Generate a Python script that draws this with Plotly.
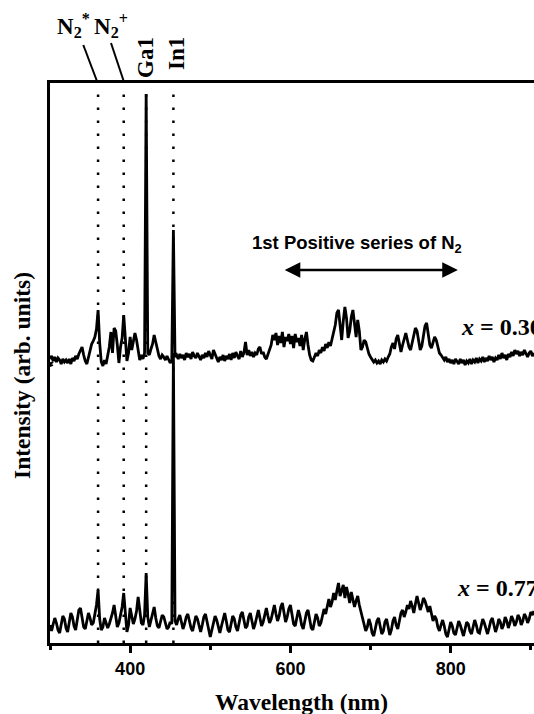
import numpy as np
import plotly.graph_objects as go

# Wavelength grid start / step (nm)
wl_start = 300
wl_step = 2

# Spectrum for x = 0.30 (arb. units, offset already included)
upper = [
    284, 287, 282, 286, 281, 285, 283, 279, 284, 281,   # 300-318
    283, 280, 284, 279, 285, 282, 287, 284, 289, 293,   # 320-338
    296, 288, 282, 279, 285, 292, 299, 302, 306, 314,   # 340-358
    333, 300, 281, 277, 283, 279, 286, 296, 311, 290,   # 360-378
    315, 312, 298, 280, 296, 305, 328, 306, 282, 290,   # 380-398
    306, 293, 300, 310, 303, 290, 283, 288, 284, 290,   # 400-418
    549, 290, 288, 294, 299, 308, 300, 292, 287, 284,   # 420-438
    288, 286, 283, 287, 284, 280, 283, 413, 286, 288,   # 440-458
    284, 289, 285, 288, 283, 290, 286, 289, 284, 291,   # 460-478
    287, 285, 290, 286, 283, 288, 285, 290, 286, 292,   # 480-498
    287, 284, 293, 288, 285, 281, 286, 283, 288, 282,   # 500-518
    287, 284, 289, 283, 290, 285, 291, 287, 284, 292,   # 520-538
    286, 290, 301, 288, 293, 287, 291, 286, 290, 288,   # 540-558
    294, 296, 289, 291, 286, 284, 289, 293, 298, 308,   # 560-578
    303, 310, 298, 307, 300, 311, 296, 306, 302, 309,   # 580-598
    299, 307, 295, 309, 301, 305, 297, 308, 293, 304,   # 600-618
    311, 298, 288, 283, 282, 286, 290, 287, 293, 290,   # 620-638
    296, 292, 299, 295, 301, 297, 305, 313, 318, 330,   # 640-658
    333, 318, 303, 322, 336, 325, 305, 312, 326, 333,   # 660-678
    318, 306, 323, 312, 293, 296, 303, 301, 295, 289,   # 680-698
    286, 284, 281, 283, 280, 282, 279, 283, 281, 284,   # 700-718
    282, 286, 289, 296, 300, 294, 304, 308, 300, 291,   # 720-738
    298, 305, 310, 303, 296, 293, 300, 309, 315, 312,   # 740-758
    300, 293, 297, 308, 317, 320, 311, 298, 295, 301,   # 760-778
    306, 303, 296, 290, 288, 285, 283, 286, 281, 284,   # 780-798
    280, 283, 279, 284, 281, 279, 284, 280, 283, 278,   # 800-818
    282, 280, 284, 279, 283, 281, 285, 280, 284, 282,   # 820-838
    286, 281, 285, 282, 287, 283, 286, 281, 285, 283,   # 840-858
    288, 284, 290, 285, 288, 283, 289, 286, 291, 287,   # 860-878
    293, 289, 292, 287, 291, 288, 293, 289, 286, 290,   # 880-898
    292, 287, 290,                                       # 900-904
]

# Spectrum for x = 0.77
lower = [
    18, 12, 19, 25, 20, 13, 10, 17, 27, 24,    # 300-318
    15, 11, 20, 30, 26, 17, 13, 22, 33, 35,    # 320-338
    24, 16, 14, 23, 30, 25, 18, 20, 28, 38,    # 340-358
    53, 24, 13, 16, 25, 21, 15, 19, 24, 30,    # 360-378
    38, 26, 16, 20, 28, 36, 50, 25, 11, 18,    # 380-398
    35, 27, 19, 24, 32, 46, 33, 20, 18, 28,    # 400-418
    70, 26, 16, 22, 30, 36, 25, 17, 15, 22,    # 420-438
    28, 26, 19, 14, 16, 21, 19, 290, 22, 18,   # 440-458
    24, 28, 21, 14, 19, 26, 29, 22, 15, 12,    # 460-478
    20, 27, 24, 16, 11, 18, 26, 29, 20, 12,    # 480-498
    6, 13, 22, 27, 23, 15, 10, 17, 25, 30,     # 500-518
    22, 13, 11, 19, 27, 24, 16, 12, 20, 28,    # 520-538
    31, 23, 15, 17, 26, 30, 22, 14, 19, 28,    # 540-558
    33, 25, 17, 21, 30, 35, 27, 20, 24, 33,    # 560-578
    38, 29, 22, 27, 36, 40, 31, 21, 26, 34,    # 580-598
    38, 28, 19, 17, 25, 33, 27, 18, 14, 22,    # 600-618
    30, 33, 24, 15, 13, 21, 29, 25, 17, 20,    # 620-638
    28, 34, 29, 37, 44, 36, 41, 50, 43, 52,    # 640-658
    60, 47, 53, 58, 45, 56, 49, 40, 51, 44,    # 660-678
    36, 42, 47, 38, 32, 26, 18, 12, 16, 24,    # 680-698
    19, 10, 7, 14, 22, 25, 16, 9, 12, 21,      # 700-718
    24, 15, 8, 13, 22, 26, 18, 14, 21, 30,     # 720-738
    33, 26, 31, 38, 34, 42, 37, 30, 39, 47,    # 740-758
    40, 33, 38, 45, 42, 35, 31, 37, 30, 22,    # 760-778
    27, 24, 16, 12, 18, 23, 17, 9, 6, 13,      # 780-798
    21, 17, 10, 8, 15, 22, 18, 11, 7, 14,      # 800-818
    21, 19, 12, 9, 16, 23, 18, 11, 10, 17,     # 820-838
    24, 20, 13, 9, 15, 22, 25, 17, 11, 16,     # 840-858
    24, 21, 14, 18, 26, 22, 15, 20, 27, 23,    # 860-878
    17, 21, 28, 25, 18, 22, 29, 26, 20, 24,    # 880-898
    31, 28, 32,                                 # 900-904
]

# Emission line markers (nm, as drawn)
line_positions = [360, 392, 420, 454]
line_labels = ["N<sub>2</sub><sup>*</sup>", "N<sub>2</sub><sup>+</sup>", "Ga1", "In1"]

# Sample labels
sample_labels = ["<i>x</i> = 0.30", "<i>x</i> = 0.77"]

# Band span of the 1st positive series (nm)
band_span = [591, 809]

x_range = [300, 904]
y_range = [0, 560]
major_ticks = [400, 600, 800]
minor_ticks = [300, 500, 700, 900]

wl_upper = wl_start + wl_step * np.arange(len(upper))
wl_lower = wl_start + wl_step * np.arange(len(lower))

W, H = 534, 714
ML, MR, MT, MB = 50, 0, 83, 71
PW = W - ML - MR
PH = H - MT - MB


def px_to_paper_x(px):
    return (px - ML) / PW


def px_to_paper_y(py):
    return (H - MB - py) / PH


def px_to_y(py):
    return y_range[0] + (H - MB - py) / PH * (y_range[1] - y_range[0])


fig = go.Figure()
fig.add_trace(go.Scatter(x=wl_upper, y=upper, mode="lines",
                         line=dict(color="black", width=2.8), hoverinfo="skip",
                         showlegend=False))
fig.add_trace(go.Scatter(x=wl_lower, y=lower, mode="lines",
                         line=dict(color="black", width=2.8), hoverinfo="skip",
                         showlegend=False))

serif = "Liberation Serif"
sans = "Liberation Sans"

shapes = []
for p in line_positions:
    shapes.append(dict(type="line", xref="x", yref="paper", x0=p, x1=p,
                       y0=0.0, y1=0.99,
                       line=dict(color="black", width=2.5, dash="2.5px,10.5px"),
                       layer="below"))

# leader lines from the N2 labels to the dotted lines
shapes.append(dict(type="line", xref="paper", yref="paper",
                   x0=px_to_paper_x(83.3), y0=px_to_paper_y(45),
                   x1=px_to_paper_x(97.3), y1=px_to_paper_y(82),
                   line=dict(color="black", width=2)))
shapes.append(dict(type="line", xref="paper", yref="paper",
                   x0=px_to_paper_x(111), y0=px_to_paper_y(43),
                   x1=px_to_paper_x(124), y1=px_to_paper_y(82),
                   line=dict(color="black", width=2)))

# axis break mark on the y axis
bx, by = ML, 365
shapes.append(dict(type="path", xref="paper", yref="paper",
                   path="M {} {} L {} {} L {} {} L {} {}".format(
                       px_to_paper_x(bx - 2), px_to_paper_y(by - 1),
                       px_to_paper_x(bx + 3), px_to_paper_y(by - 3),
                       px_to_paper_x(bx - 2), px_to_paper_y(by + 2),
                       px_to_paper_x(bx + 3), px_to_paper_y(by + 0)),
                   line=dict(color="black", width=1.6)))

annotations = []
# N2 labels
annotations.append(dict(text="<b>" + line_labels[0] + "</b>", xref="paper", yref="paper",
                        x=px_to_paper_x(73), y=px_to_paper_y(26), showarrow=False,
                        font=dict(family=serif, size=23, color="black"),
                        xanchor="center", yanchor="middle"))
annotations.append(dict(text="<b>" + line_labels[1] + "</b>", xref="paper", yref="paper",
                        x=px_to_paper_x(111), y=px_to_paper_y(26), showarrow=False,
                        font=dict(family=serif, size=23, color="black"),
                        xanchor="center", yanchor="middle"))
annotations.append(dict(text="<b>" + line_labels[2] + "</b>", xref="paper", yref="paper",
                        x=px_to_paper_x(146), y=px_to_paper_y(58), showarrow=False,
                        textangle=-90, font=dict(family=serif, size=23, color="black"),
                        xanchor="center", yanchor="middle"))
annotations.append(dict(text="<b>" + line_labels[3] + "</b>", xref="paper", yref="paper",
                        x=px_to_paper_x(177), y=px_to_paper_y(54), showarrow=False,
                        textangle=-90, font=dict(family=serif, size=23, color="black"),
                        xanchor="center", yanchor="middle"))

# 1st positive series label + double arrow
annotations.append(dict(text="<b>1st Positive series of N<sub>2</sub></b>", xref="paper",
                        yref="paper", x=px_to_paper_x(250), y=px_to_paper_y(244),
                        showarrow=False, font=dict(family=sans, size=18.5, color="black"),
                        xanchor="left", yanchor="middle"))
arrow_y = px_to_y(270)
annotations.append(dict(text="", x=band_span[1], y=arrow_y, ax=band_span[0], ay=arrow_y,
                        xref="x", yref="y", axref="x", ayref="y", showarrow=True,
                        arrowhead=2, arrowside="end+start", arrowsize=1.3,
                        arrowwidth=2.4, arrowcolor="black", standoff=0, startstandoff=0))

# sample labels
annotations.append(dict(text="<b>" + sample_labels[0] + "</b>", xref="paper", yref="paper",
                        x=px_to_paper_x(459), y=px_to_paper_y(327), showarrow=False,
                        font=dict(family=serif, size=24, color="black"),
                        xanchor="left", yanchor="middle"))
annotations.append(dict(text="<b>" + sample_labels[1] + "</b>", xref="paper", yref="paper",
                        x=px_to_paper_x(455), y=px_to_paper_y(588), showarrow=False,
                        font=dict(family=serif, size=24, color="black"),
                        xanchor="left", yanchor="middle"))

# axis titles
annotations.append(dict(text="<b>Wavelength (nm)</b>", xref="paper", yref="paper",
                        x=px_to_paper_x(301), y=px_to_paper_y(702), showarrow=False,
                        font=dict(family=serif, size=23.5, color="black"),
                        xanchor="center", yanchor="middle"))
annotations.append(dict(text="<b>Intensity (arb. units)</b>", xref="paper", yref="paper",
                        x=px_to_paper_x(22), y=px_to_paper_y(376), showarrow=False,
                        textangle=-90, font=dict(family=serif, size=23.5, color="black"),
                        xanchor="center", yanchor="middle"))

fig.update_layout(
    width=W, height=H,
    margin=dict(l=ML, r=MR, t=MT, b=MB, pad=0),
    paper_bgcolor="white", plot_bgcolor="white",
    showlegend=False,
    shapes=shapes,
    annotations=annotations,
    xaxis=dict(range=x_range, showgrid=False, zeroline=False,
               showline=True, linecolor="black", linewidth=3, mirror=True,
               ticks="outside", ticklen=7, tickwidth=2.5, tickcolor="black",
               tickvals=major_ticks, ticktext=[str(v) for v in major_ticks],
               tickfont=dict(family=sans, size=18, color="black", weight="bold"),
               minor=dict(tickvals=minor_ticks, ticks="outside", ticklen=4,
                          tickwidth=2.5, tickcolor="black")),
    yaxis=dict(range=y_range, showgrid=False, zeroline=False,
               showline=True, linecolor="black", linewidth=3,
               showticklabels=False, ticks=""),
)

fig.write_html("out.html")
